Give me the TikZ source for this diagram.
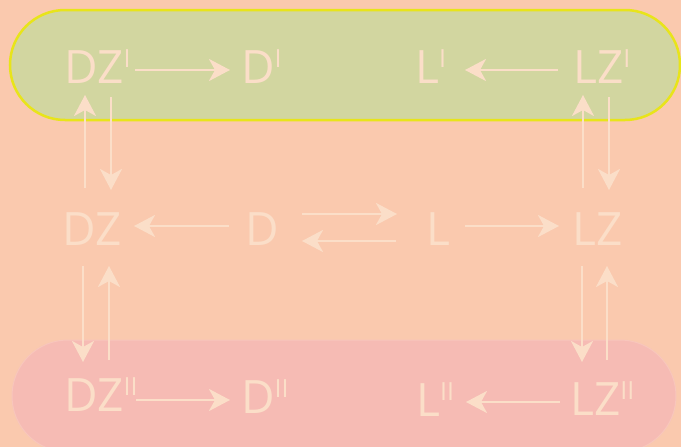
\documentclass[tikz,border=0pt]{standalone}
\usepackage{fontspec}
\setmainfont{Open Sans}
\usetikzlibrary{arrows.meta}
\definecolor{bgpeach}{HTML}{FAC9AE}
\definecolor{topfill}{HTML}{D2D6A0}
\definecolor{topedge}{HTML}{E8E41A}
\definecolor{botfill}{HTML}{F6BBB4}
\definecolor{botedge}{HTML}{F8C6BC}
\definecolor{ink}{HTML}{FBDEC8}
\newcommand\supI{\raisebox{16pt}{\fontsize{25}{25}\selectfont I}}
\newcommand\supII{\raisebox{16pt}{\fontsize{25}{25}\selectfont II}}
\tikzset{
  lbl/.style={anchor=base west, inner sep=0pt, text=ink, font=\fontsize{46}{50}\selectfont},
  arr/.style={draw=ink, line width=2.5pt, -{Stealth[length=21pt,width=22pt,inset=6pt]}},
}
\begin{document}
\begin{tikzpicture}[x=1pt,y=-1pt]
\fill[bgpeach] (0,0) rectangle (681,447);
\useasboundingbox (0,0) rectangle (681,447);
\begin{scope}
\clip (0,0) rectangle (681,447);
\draw[fill=topfill, draw=topedge, line width=2.5pt, rounded corners=55pt] (10,10) rectangle (680,120);
\draw[fill=botfill, draw=botedge, line width=1pt, rounded corners=56pt] (12,340) rectangle (676,452);
\end{scope}
% nodes
\node[lbl] (dz1) at (64,83) {DZ\supI};
\node[lbl] (d1)  at (241,83) {D\supI};
\node[lbl] (l1)  at (415,83) {L\supI};
\node[lbl] (lz1) at (573,83) {LZ\supI};
\node[lbl] (dz)  at (62,245) {DZ};
\node[lbl] (d)   at (245,245) {D};
\node[lbl] (l)   at (426,245) {L};
\node[lbl] (lz)  at (572,245) {LZ};
\node[lbl] (dz2) at (64,411) {DZ\supII};
\node[lbl] (d2)  at (241,413) {D\supII};
\node[lbl] (l2)  at (416,416) {L\supII};
\node[lbl] (lz2) at (570,415) {LZ\supII};
% top row
\draw[arr] ([shift={(71,-13)}]dz1.base west) -- ([shift={(-11,-13)}]d1.base west);
\draw[arr] ([shift={(-15,-13)}]lz1.base west) -- ([shift={(50,-13)}]l1.base west);
% middle row
\draw[arr] ([shift={(-16,-19)}]d.base west) -- ([shift={(72,-19)}]dz.base west);
\draw[arr] ([shift={(57,-31)}]d.base west) -- ([shift={(-29,-31)}]l.base west);
\draw[arr] ([shift={(-30,-4)}]l.base west) -- ([shift={(57,-4)}]d.base west);
\draw[arr] ([shift={(39,-19)}]l.base west) -- ([shift={(-13,-19)}]lz.base west);
% bottom row
\draw[arr] ([shift={(72,-11)}]dz2.base west) -- ([shift={(-11,-13)}]d2.base west);
\draw[arr] ([shift={(-10,-13)}]lz2.base west) -- ([shift={(50,-14)}]l2.base west);
% verticals top
\draw[arr] ([shift={(23,-57)}]dz.base west) -- ([shift={(21,12)}]dz1.base west);
\draw[arr] ([shift={(47,14)}]dz1.base west) -- ([shift={(49,-55)}]dz.base west);
\draw[arr] ([shift={(11,-57)}]lz.base west) -- ([shift={(10,12)}]lz1.base west);
\draw[arr] ([shift={(36,14)}]lz1.base west) -- ([shift={(37,-55)}]lz.base west);
% verticals bottom
\draw[arr] ([shift={(21,21)}]dz.base west) -- ([shift={(19,-49)}]dz2.base west);
\draw[arr] ([shift={(45,-51)}]dz2.base west) -- ([shift={(47,21)}]dz.base west);
\draw[arr] ([shift={(10,21)}]lz.base west) -- ([shift={(12,-53)}]lz2.base west);
\draw[arr] ([shift={(37,-55)}]lz2.base west) -- ([shift={(35,21)}]lz.base west);
\end{tikzpicture}
\end{document}
